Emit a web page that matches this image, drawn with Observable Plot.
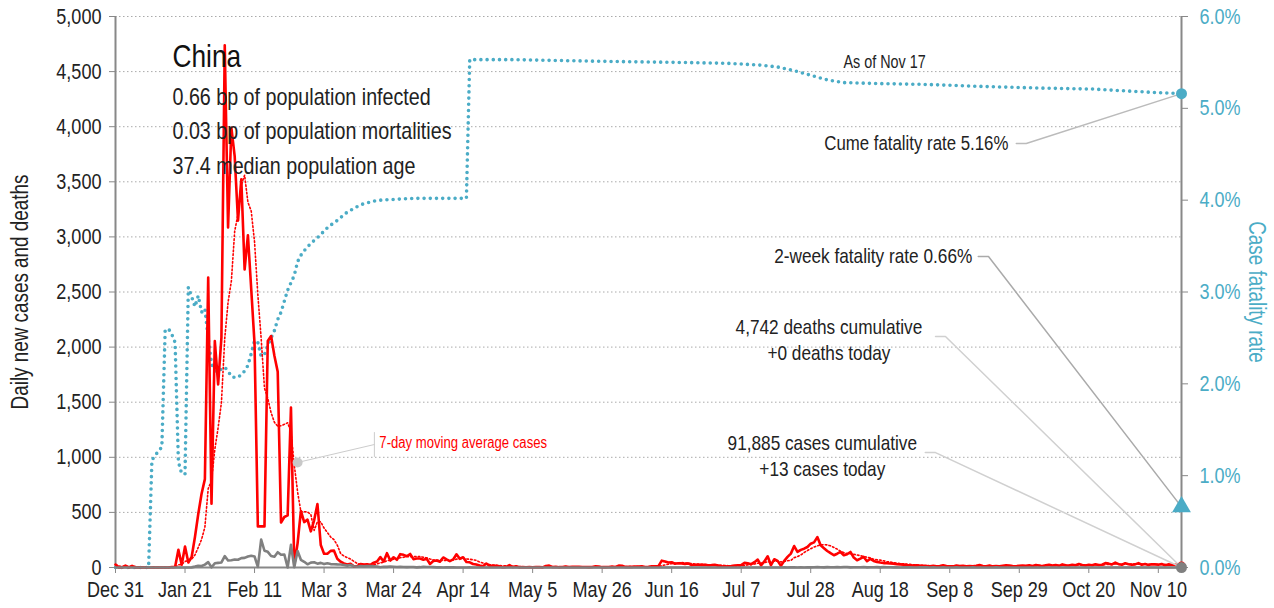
<!DOCTYPE html>
<html><head><meta charset="utf-8">
<script src="https://cdn.jsdelivr.net/npm/d3@7"></script>
<script src="https://cdn.jsdelivr.net/npm/@observablehq/plot@0.6"></script>
<style>html,body{margin:0;padding:0;background:#fff;}</style>
</head><body><div id="chart"></div>
<script>
// ---- DATA (daily, starting 2019-12-31) ----
const casesDec = [27];
const casesJan = [0,0,17,0,15,0,0,0,0,0,0,0,0,0,0,0,4,5,160,25,190,45,95,277,486,669,802,2632,578,2054,1661];
const casesFeb = [2089,4739,3086,3991,3733,3147,3523,2704,3015,2525,2032,373,373,373,2055,2100,1921,1777,408,458,473,1451,21,219,513,412,434,328,428];
const casesMar = [576,204,125,125,151,153,80,53,37,27,34,11,13,32,26,30,25,44,54,94,55,130,63,93,70,121,115,102,123,76,81];
const casesApr = [82,71,79,32,59,63,53,91,74,58,73,120,79,93,50,47,32,27,18,12,36,15,16,15,10,3,6,22,4,12];
const casesMay = [2,3,2,3,2,3,4,1,14,17,5,7,3,4,8,5,7,6,7,4,5,3,5,12,9,3,3,5,8,5,17];
const casesJun = [16,5,6,6,9,8,10,5,6,11,11,13,62,55,45,48,34,38,37,33,37,22,25,25,24,25,21,22,24,17];
const casesJul = [10,9,12,14,18,20,22,42,38,30,48,72,20,55,102,21,75,60,15,60,96,126,195,141,160,171,186,216,228,276,201];
const casesAug = [175,150,130,111,125,141,111,120,141,90,66,80,96,57,78,60,51,45,40,38,36,35,30,28,26,22,20,18,20,16,15];
const casesSep = [14,12,15,11,13,20,14,12,10,18,13,16,12,14,10,15,22,14,12,18,10,14,12,16,20,18,14,12,15,18];
const casesOct = [16,20,14,22,18,12,20,25,18,22,15,28,20,18,25,20,32,22,18,25,20,30,22,25,40,35,28,45,30,25,38];
const casesNov = [30,25,28,40,25,32,22,30,28,25,32,20,28,25,22,26,13];

const deathsDec = [0];
const deathsJan = [0,0,0,0,0,0,0,0,0,1,0,0,0,0,0,0,0,0,0,0,0,0,1,8,16,14,26,49,2,38,42];
const deathsFeb = [46,103,64,66,72,70,85,87,100,107,100,5,253,152,142,104,98,139,115,118,0,205,2,150,70,52,29,44,47];
const deathsMar = [35,42,31,38,31,30,28,27,22,17,22,11,7,13,10,14,13,11,8,3,7,6,9,7,4,6,5,3,5,5,1];
const deathsApr = [3,6,4,4,3,1,2,0,2,1,1,0,0,0,0,1,0,0,0,0,0,0,0,0,0,0,0,0,0,0];
const deathsMay = [0,0,0,0,0,0,0,0,0,0,0,0,0,0,0,0,0,0,0,0,0,0,0,0,0,0,0,0,0,0,0];
const deathsJun = [0,0,0,0,0,0,0,0,0,0,0,0,0,0,0,0,0,0,0,0,0,0,0,0,0,0,0,0,0,0];
const deathsJul = [0,0,0,0,0,0,0,0,0,0,0,0,0,0,0,0,0,0,0,1,0,1,1,0,2,0,1,1,2,3,2];
const deathsAug = [1,3,2,2,3,2,4,5,1,2,2,2,4,1,2,2,3,1,3,2,2,1,1,0,1,1,1,0,0,1,2];
const deathsSep = [1,0,1,0,0,1,0,0,0,1,0,0,0,0,1,0,0,0,0,0,0,1,0,0,0,0,0,0,0,0];
const deathsOct = [0,0,0,0,0,0,0,0,0,0,0,0,0,0,0,0,0,0,0,0,0,0,0,0,0,0,0,0,0,0,0];
const deathsNov = [0,0,0,0,0,0,0,0,0,0,0,0,0,0,0,0,0];

// case fatality rate (%) read at day offsets from 2019-12-31
const cfrDay = [0,10,11,12,13,14,15,16,17,18,19,20,21,22,23,24,25,26,27,28,29,30,31,32,33,34,35,36,37,38,39,40,41,42,43,44,45,46,47,48,49,50,51,52,53,54,55,56,57,58,59,60,61,62,63,64,65,66,67,68,69,70,71,72,73,74,75,76,77,78,80,85,90,100,106,107,120,135,150,170,185,195,200,205,210,215,220,230,245,260,280,295,305,315,322];
const cfrPct = [0,0,1.17,1.22,1.27,1.31,2.58,2.60,2.54,2.45,1.15,1.02,1.02,3.05,2.95,2.84,2.96,2.78,2.82,2.50,2.22,2.14,2.14,2.16,2.18,2.14,2.08,2.07,2.07,2.10,2.14,2.20,2.33,2.47,2.45,2.30,2.32,2.42,2.50,2.58,2.70,2.78,2.90,3.02,3.10,3.18,3.33,3.40,3.45,3.49,3.53,3.56,3.59,3.63,3.66,3.70,3.73,3.75,3.78,3.81,3.84,3.87,3.89,3.91,3.93,3.95,3.96,3.97,3.98,3.99,4.00,4.01,4.02,4.02,4.02,5.53,5.53,5.52,5.51,5.50,5.49,5.47,5.45,5.41,5.36,5.31,5.28,5.27,5.26,5.24,5.22,5.21,5.19,5.17,5.16];

const xTickDates = ["2019-12-31","2020-01-21","2020-02-11","2020-03-03","2020-03-24","2020-04-14","2020-05-05","2020-05-26","2020-06-16","2020-07-07","2020-07-28","2020-08-18","2020-09-08","2020-09-29","2020-10-20","2020-11-10"];
const yTicks = [0,500,1000,1500,2000,2500,3000,3500,4000,4500,5000];
const pctTicks = [0,1,2,3,4,5,6];

const country = "China";
const headerLines = ["0.66 bp of population infected","0.03 bp of population mortalities","37.4 median population age"];
const cumeCfr = 5.16, twoWeekCfr = 0.66, casesToday = 13, deathsToday = 0, cumCases = 91885, cumDeaths = 4742;

// ---- BUILD ----
const start = Date.UTC(2019, 11, 31);
const day = n => new Date(start + n * 864e5);
const cases = [].concat(casesDec,casesJan,casesFeb,casesMar,casesApr,casesMay,casesJun,casesJul,casesAug,casesSep,casesOct,casesNov);
const deaths = [].concat(deathsDec,deathsJan,deathsFeb,deathsMar,deathsApr,deathsMay,deathsJun,deathsJul,deathsAug,deathsSep,deathsOct,deathsNov);
const rows = cases.map((c, i) => ({date: day(i), cases: c, deaths: deaths[i]}));
const last = rows.length - 1;
const pctToY = p => p * 5000 / 6;
const cfrRows = cfrDay.map((d, i) => ({date: day(d), v: pctToY(cfrPct[i])}));

const TEAL = "#4bacc6";
const FONT = "'Liberation Sans',Arial,sans-serif";
const fmt = d3.format(",");
const endDate = day(last);
const pts = (arr) => arr.map(([d, v]) => ({date: day(d), v}));
const txt = (d, v, t, o) => Plot.text([{date: day(d), v, t}], {x: "date", y: "v", text: "t", lineAnchor: "middle", fontSize: 20.5, fill: "#222", ...o});

const chart = Plot.plot({
  width: 1274, height: 608,
  marginLeft: 115, marginRight: 93, marginTop: 16, marginBottom: 41,
  style: {fontFamily: FONT, fontSize: "20px", color: "#222", background: "#fff", overflow: "visible"},
  x: {type: "utc", domain: [day(0), endDate]},
  y: {domain: [0, 5000]},
  marks: [
    Plot.ruleY(yTicks.filter(d => d > 0), {stroke: "#aaa", strokeWidth: 1, strokeDasharray: "1.5,2.5"}),
    Plot.axisY(yTicks, {tickFormat: fmt, tickSize: 6, tickPadding: 8, stroke: "#888", fill: "#222", fontSize: 22, label: null}),
    Plot.axisY(pctTicks.map(pctToY), {anchor: "right", tickFormat: d => (d * 6 / 5000).toFixed(1) + "%", tickSize: 6, tickPadding: 12, stroke: "#888", fill: TEAL, fontSize: 22, label: null}),
    Plot.axisX(xTickDates.map(s => new Date(s)), {tickFormat: d3.utcFormat("%b %-d"), tickSize: 6, tickPadding: 8, stroke: "#888", fill: "#222", fontSize: 22, label: null}),
    Plot.ruleX([day(0)], {stroke: "#888", strokeWidth: 2}),
    Plot.ruleX([endDate], {stroke: "#888", strokeWidth: 2}),
    Plot.ruleY([0], {stroke: "#888", strokeWidth: 2}),
    // axis titles
    Plot.text(["Daily new cases and deaths"], {frameAnchor: "left", dx: -95, rotate: -90, textAnchor: "middle", fontSize: 23, fill: "#222"}),
    Plot.text(["Case fatality rate"], {frameAnchor: "right", dx: 75, rotate: 90, textAnchor: "middle", fontSize: 23, fill: TEAL}),
    // series
    Plot.line(cfrRows, {x: "date", y: "v", stroke: TEAL, strokeWidth: 3.6, strokeDasharray: "0,6.2", strokeLinecap: "round"}),
    Plot.line(rows, Plot.windowY({k: 7, anchor: "end"}, {x: "date", y: "cases", stroke: "red", strokeWidth: 1.6, strokeDasharray: "1.6,2.2"})),
    Plot.line(rows, {x: "date", y: "cases", stroke: "red", strokeWidth: 2.6}),
    Plot.line(rows, {x: "date", y: "deaths", stroke: "#808080", strokeWidth: 2.6}),
    // leader lines
    Plot.line(pts([[272.1, 3847], [275.1, 3847]]).concat([{date: endDate, v: pctToY(cumeCfr)}]), {x: "date", y: "v", stroke: "#bbb", strokeWidth: 1.5}),
    Plot.line(pts([[260.6, 2822], [263.7, 2822]]).concat([{date: endDate, v: pctToY(twoWeekCfr)}]), {x: "date", y: "v", stroke: "#aaa", strokeWidth: 1.5}),
    Plot.line(pts([[247.7, 2096], [250.7, 2096]]).concat([{date: endDate, v: deaths[last]}]), {x: "date", y: "v", stroke: "#d0d0d0", strokeWidth: 1.5}),
    Plot.line(pts([[244.6, 1043], [247.7, 1043]]).concat([{date: endDate, v: 0}]), {x: "date", y: "v", stroke: "#d0d0d0", strokeWidth: 1.5}),
    Plot.line(pts([[78.2, 1116], [55, 953]]), {x: "date", y: "v", stroke: "#ccc", strokeWidth: 1}),
    Plot.line(pts([[78.2, 1225], [78.2, 1007]]), {x: "date", y: "v", stroke: "#ccc", strokeWidth: 1}),
    Plot.dot(pts([[55, 953]]), {x: "date", y: "v", r: 5, fill: "#c8c8c8"}),
    // end markers
    Plot.dot([{date: endDate, v: pctToY(cumeCfr)}], {x: "date", y: "v", r: 5.5, fill: TEAL}),
    Plot.dot([{date: endDate, v: pctToY(twoWeekCfr)}], {x: "date", y: "v", r: 7, symbol: "triangle", fill: TEAL}),
    Plot.dot([{date: endDate, v: cases[last]}], {x: "date", y: "v", r: 4.5, fill: "red"}),
    Plot.dot([{date: endDate, v: deaths[last]}], {x: "date", y: "v", r: 5.5, fill: "#808080"}),
    // annotations
    txt(269.7, 3847, `Cume fatality rate ${cumeCfr.toFixed(2)}%`, {textAnchor: "end"}),
    txt(258.8, 2822, `2-week fatality rate ${twoWeekCfr.toFixed(2)}%`, {textAnchor: "end", fontSize: 21}),
    txt(215.5, 2078, `${fmt(cumDeaths)} deaths cumulative\n+${deathsToday} deaths today`, {textAnchor: "middle", lineHeight: 1.27, fontSize: 21}),
    txt(213.5, 1021, `${fmt(cumCases)} cases cumulative\n+${casesToday} cases today`, {textAnchor: "middle", lineHeight: 1.22, fontSize: 21}),
    txt(232.3, 4582, "As of Nov 17", {textAnchor: "middle", fontSize: 17.5}),
    txt(79.7, 1134, "7-day moving average cases", {textAnchor: "start", fontSize: 16, fill: "red"}),
    // header
    Plot.text([country], {frameAnchor: "top-left", dx: 57, dy: 40, lineAnchor: "middle", textAnchor: "start", fontSize: 32, fill: "#111"}),
    Plot.text([headerLines[0]], {frameAnchor: "top-left", dx: 57, dy: 81, lineAnchor: "middle", textAnchor: "start", fontSize: 24, fill: "#222"}),
    Plot.text([headerLines[1]], {frameAnchor: "top-left", dx: 57, dy: 115, lineAnchor: "middle", textAnchor: "start", fontSize: 24, fill: "#222"}),
    Plot.text([headerLines[2]], {frameAnchor: "top-left", dx: 57, dy: 150, lineAnchor: "middle", textAnchor: "start", fontSize: 24, fill: "#222"})
  ]
});
document.getElementById("chart").appendChild(chart);
// condensed look: narrow every label horizontally (text stays text)
chart.querySelectorAll("text").forEach(t => {
  const spans = t.querySelectorAll("tspan");
  (spans.length ? [...spans] : [t]).forEach(el => {
    const L = el.getComputedTextLength();
    if (L > 0) { el.setAttribute("textLength", (L * 0.82).toFixed(1)); el.setAttribute("lengthAdjust", "spacingAndGlyphs"); }
  });
});
</script>
</body></html>
